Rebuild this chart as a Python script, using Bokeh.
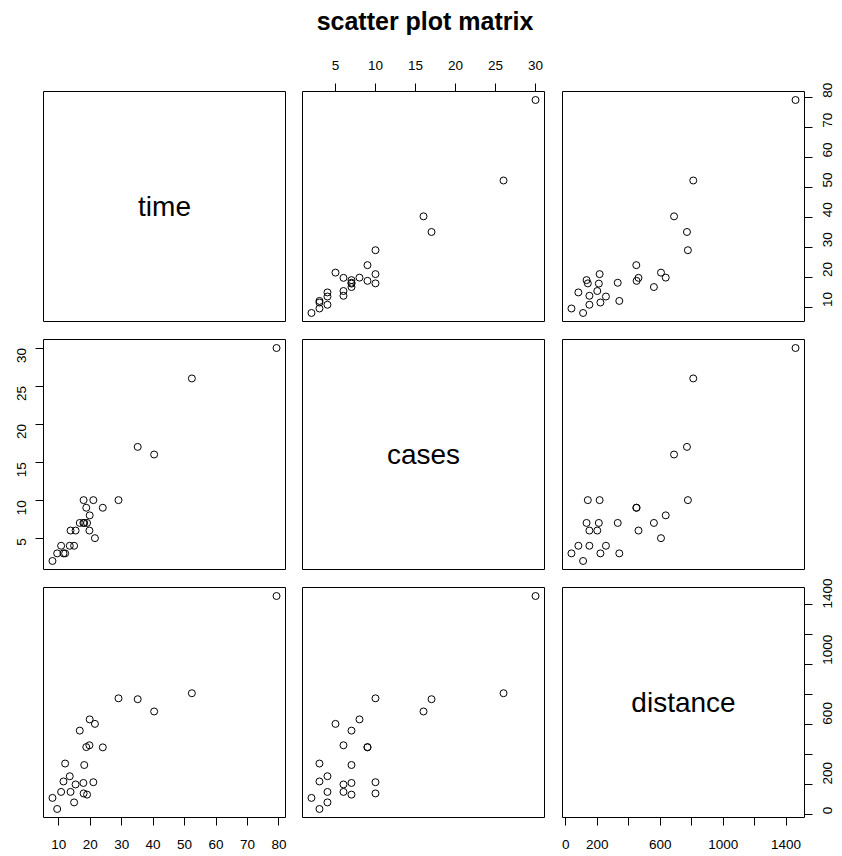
import math
from bokeh.plotting import figure
from bokeh.models import Range1d, LinearAxis, FixedTicker, Label, ColumnDataSource
from bokeh.layouts import column, row
from bokeh.core.properties import value
from bokeh.embed import file_html
from bokeh.resources import INLINE

# Delivery time data
time = [16.68, 11.50, 12.03, 14.88, 13.75, 18.11, 8.00, 17.83, 79.24, 21.50,
        40.33, 21.00, 13.50, 19.75, 24.00, 29.00, 15.35, 19.00, 9.50, 35.10,
        17.90, 52.32, 18.75, 19.83, 10.75]
cases = [7, 3, 3, 4, 6, 7, 2, 7, 30, 5, 16, 10, 4, 6, 9, 10, 6, 7, 3, 17,
         10, 26, 9, 8, 4]
distance = [560, 220, 340, 80, 150, 330, 110, 210, 1460, 605, 688, 215, 255,
            462, 448, 776, 200, 132, 36, 770, 140, 810, 450, 635, 150]
var_names = ["time", "cases", "distance"]

time_ticks = [10, 20, 30, 40, 50, 60, 70, 80]
cases_ticks = [5, 10, 15, 20, 25, 30]
distance_ticks = [0, 200, 400, 600, 800, 1000, 1200, 1400]
distance_tick_labels = ["0", "200", "", "600", "", "1000", "", "1400"]

title_text = "scatter plot matrix"

FONT = "Liberation Sans"
FW, FH = 242, 230

data = {"time": time, "cases": cases, "distance": distance}
ticks = {"time": time_ticks, "cases": cases_ticks, "distance": distance_ticks}
overrides = {"distance": {t: l for t, l in zip(distance_ticks, distance_tick_labels)}}


def rng(v):
    lo, hi = min(v), max(v)
    d = (hi - lo) * 0.04
    return lo - d, hi + d


def make_axis(name, side):
    ax = LinearAxis(ticker=FixedTicker(ticks=ticks[name]))
    ax.axis_line_color = None
    ax.major_tick_in = 0
    ax.major_tick_out = 8
    ax.major_tick_line_color = "black"
    ax.major_tick_line_width = 1
    ax.minor_tick_line_color = None
    ax.major_label_text_font = FONT
    ax.major_label_text_font_size = "13.5px"
    ax.major_label_text_color = "black"
    ax.major_label_standoff = {"left": 14, "right": 15, "above": 14, "below": 14}[side]
    if name in overrides:
        ax.major_label_overrides = overrides[name]
    if side in ("left", "right"):
        ax.major_label_orientation = math.pi / 2
    return ax


# borders per column (left,right) and per row (top,bottom)
col_borders = [(43, 8), (9, 9), (9, 30)]
row_borders = [(53, 9), (9, 9), (9, 37)]
TITLE_H = 38

# which axes are drawn where (R pairs() style)
axes_spec = {
    (0, 1): [("above", 1)],
    (0, 2): [("right", 0)],
    (1, 0): [("left", 1)],
    (2, 0): [("below", 0)],
    (2, 2): [("below", 2), ("right", 2)],
}

rows = []
for i in range(3):
    figs = []
    for j in range(3):
        xn, yn = var_names[j], var_names[i]
        xr, yr = rng(data[xn]), rng(data[yn])
        p = figure(frame_width=FW, frame_height=FH,
                   x_range=Range1d(*xr), y_range=Range1d(*yr),
                   x_axis_location=None, y_axis_location=None,
                   output_backend="svg", toolbar_location=None,
                   min_border_left=col_borders[j][0], min_border_right=col_borders[j][1],
                   min_border_top=row_borders[i][0], min_border_bottom=row_borders[i][1])
        p.grid.visible = False
        p.outline_line_color = "black"
        p.outline_line_width = 1
        p.outline_line_alpha = 1
        p.background_fill_color = "white"
        p.border_fill_color = "white"
        if i == j:
            p.text(x=[(xr[0] + xr[1]) / 2], y=[(yr[0] + yr[1]) / 2], text=[xn],
                   text_font=value(FONT), text_font_size="28px",
                   text_align="center", text_baseline="middle", text_color="black")
        else:
            src = ColumnDataSource(dict(x=data[xn], y=data[yn]))
            p.scatter("x", "y", source=src, marker="circle", size=7,
                      fill_color=None, line_color="black", line_width=1)
        for side, k in axes_spec.get((i, j), []):
            p.add_layout(make_axis(var_names[k], side), side)
        figs.append(p)
    rows.append(row(*figs))

total_w = sum(a + b for a, b in col_borders) + 3 * FW + 8
tp = figure(width=total_w, height=TITLE_H, x_range=Range1d(0, total_w), y_range=Range1d(0, TITLE_H),
            x_axis_location=None, y_axis_location=None, min_border=0,
            output_backend="svg", toolbar_location=None)
tp.grid.visible = False
tp.outline_line_color = None
plot_center = (col_borders[0][0] + col_borders[0][0] + 3 * FW + 8 + 9 + 9 + 9) / 2 + 1
tp.add_layout(Label(x=plot_center, y=18, text=title_text, text_font=FONT,
                    text_font_size="25px", text_font_style="bold",
                    text_align="center", text_baseline="middle", text_color="black"))

layout = column(tp, *rows)
open("out.html", "w").write(file_html(layout, INLINE))
